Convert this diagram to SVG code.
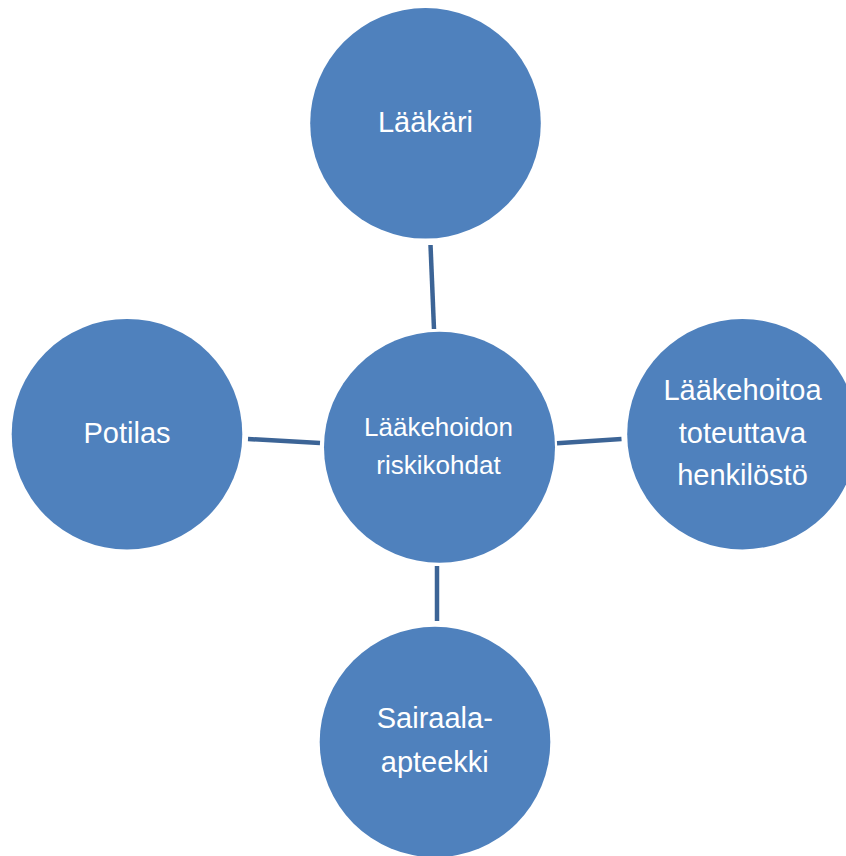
<svg xmlns="http://www.w3.org/2000/svg" width="846" height="856" viewBox="0 0 846 856">
<style>
.node{fill:#4F81BD;}
.lbl{fill:#FFFFFF;font-family:"Liberation Sans",Arial,sans-serif;font-size:29px;text-anchor:middle;}
.sm{font-size:26px;}
.conn{stroke:#3C6496;stroke-width:4.5;fill:none;}
</style>
<rect width="846" height="856" fill="#FFFFFF"/>
<g id="connectors">
<line class="conn" x1="430.5" y1="245" x2="434" y2="329"/>
<line class="conn" x1="248" y1="439" x2="320" y2="443"/>
<line class="conn" x1="557" y1="443.3" x2="621.5" y2="439"/>
<line class="conn" x1="437" y1="566" x2="437" y2="621"/>
</g>
<g id="n-laakari">
<circle class="node" cx="425.5" cy="123.3" r="115.3"/>
<text class="lbl" x="425.5" y="132.3">Lääkäri</text>
</g>
<g id="n-center">
<circle class="node" cx="439.5" cy="447.3" r="115.5"/>
<text class="lbl sm" x="438.5" y="436">Lääkehoidon</text>
<text class="lbl sm" x="438.5" y="474">riskikohdat</text>
</g>
<g id="n-potilas">
<circle class="node" cx="127" cy="434.2" r="115.3"/>
<text class="lbl" x="127" y="443.3">Potilas</text>
</g>
<g id="n-henkilosto">
<circle class="node" cx="742.4" cy="434.2" r="115.2"/>
<text class="lbl" x="742.5" y="400">Lääkehoitoa</text>
<text class="lbl" x="742.5" y="442.7">toteuttava</text>
<text class="lbl" x="742.5" y="485">henkilöstö</text>
</g>
<g id="n-sairaala">
<circle class="node" cx="435" cy="742" r="115.3"/>
<text class="lbl" x="434.8" y="728">Sairaala-</text>
<text class="lbl" x="434.8" y="771.7">apteekki</text>
</g>
</svg>
